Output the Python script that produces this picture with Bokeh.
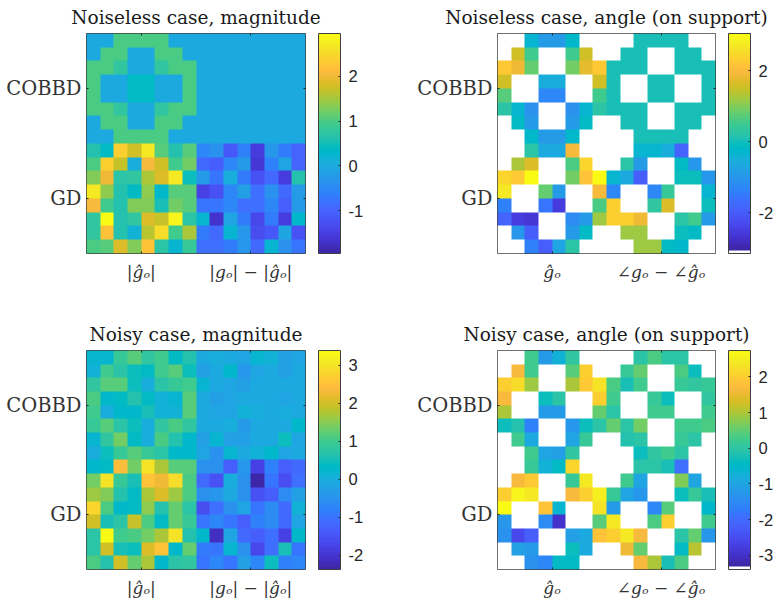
import numpy as np
from bokeh.embed import file_html
from bokeh.resources import INLINE
from bokeh.layouts import column, row
from bokeh.models import ColorBar, FixedTicker, LinearAxis, LinearColorMapper, Range1d
from bokeh.plotting import figure

N = float("nan")

TITLES = ["Noiseless case, magnitude", "Noiseless case, angle (on support)",
          "Noisy case, magnitude", "Noisy case, angle (on support)"]
Y_LABELS = {12: "COBBD", 4: "GD"}
X_LABELS_MAG = {4: "|ĝₒ|", 12: "|gₒ| − |ĝₒ|"}
X_LABELS_ANG = {4: "ĝₒ", 12: "∠gₒ − ∠ĝₒ"}

# rows listed from the top of each panel to the bottom
NOISELESS_MAG = [
    [0, 0, 1, 1, 1, 1, 0, 0, 0, 0, 0, 0, 0, 0, 0, 0],
    [0, 1, 1, 0, 0, 1, 1, 0, 0, 0, 0, 0, 0, 0, 0, 0],
    [1, 1, .8, 0, 0, .8, 1, 1, 0, 0, 0, 0, 0, 0, 0, 0],
    [1, 0, 0, .4, .4, 0, 0, 1, 0, 0, 0, 0, 0, 0, 0, 0],
    [1, 0, 0, .4, .4, 0, 0, 1, 0, 0, 0, 0, 0, 0, 0, 0],
    [1, 1, .8, 0, 0, .8, 1, 1, 0, 0, 0, 0, 0, 0, 0, 0],
    [0, 1, 1, 0, 0, 1, 1, 0, 0, 0, 0, 0, 0, 0, 0, 0],
    [0, 0, 1, 1, 1, 1, 0, 0, 0, 0, 0, 0, 0, 0, 0, 0],
    [.6, .4, 2.4, 1.75, 2.7, 1.1, .65, 1.1, -.55, -.4, -1.15, -.6, -1.5, -.3, -.7, -1.0],
    [1.0, 2.4, 1.65, .05, 2.1, 1.75, .95, 1.2, -.9, -1.1, -.5, -.2, -1.6, -.6, -.1, -1.0],
    [1.3, 2.0, .7, .75, 1.55, 1.85, 2.7, .45, -.25, -.75, .1, -.65, -1.25, -.95, -1.5, .6],
    [2.65, 1.4, .65, .4, 1.4, .3, 1.1, 1.1, -1.45, -1.2, -.55, -.15, -.85, -.4, -.9, -.2],
    [2.1, .95, .65, 1.3, 1.3, .55, 1.2, 1.1, -.8, -.8, -.55, -.85, -.85, -.55, -1.05, -.25],
    [.75, 2.95, .6, .75, 1.85, 1.7, 2.85, .7, .2, -1.7, -.05, -.7, -1.35, -.7, -1.55, .3],
    [.75, 2.25, .65, .15, 1.6, 2.5, .9, 1.5, -.7, -.9, .2, -.3, -1.3, -1.15, -.05, -1.2],
    [1.0, 1.1, 1.85, 1.3, 2.2, .7, .25, .85, -.85, -.85, -.65, -.3, -.9, .25, -.35, -.8],
]
NOISELESS_ANG = [
    [N, N, -.3, -.9, -.9, -.2, N, N, N, N, 0, 0, 0, 0, N, N],
    [N, 1.6, .5, N, N, .5, 1.6, N, N, 0, 0, N, N, 0, 0, N],
    [2.2, 1.85, .85, N, N, .9, 1.8, 2.2, 0, 0, 0, N, N, 0, 0, 0],
    [1.6, N, N, -.55, -.55, N, N, 1.6, 0, N, N, 0, 0, N, N, 0],
    [.7, N, N, -1.3, -1.3, N, N, .55, 0, N, N, 0, 0, N, N, 0],
    [.2, -.3, -1.1, N, N, -1.1, -.35, .2, 0, 0, 0, N, N, 0, 0, 0],
    [N, -.1, -.9, N, N, -.9, -.1, N, N, 0, 0, N, N, 0, 0, N],
    [N, N, -.2, -.95, -.95, -.2, N, N, N, N, 0, 0, 0, 0, N, N],
    [N, N, .2, -.65, -.65, 1.95, N, N, N, N, -.35, -.35, -.55, -1.9, N, N],
    [N, 1.3, 1.7, N, N, .6, 2.4, N, N, .25, -.9, N, N, -.1, -1.0, N],
    [2.4, 2.25, 3.0, N, N, .95, 2.1, 3.05, -.3, -.6, -2.0, N, N, -.05, -.05, -1.0],
    [2.75, N, N, .85, -.9, N, N, 2.0, -1.25, N, N, -1.25, .45, N, N, -.35],
    [-1.4, N, N, -1.55, -2.55, N, N, .6, 2.35, N, N, .35, 1.7, N, N, -.05],
    [-1.85, -2.55, -2.65, N, N, -1.2, -.9, 1.2, 2.3, 2.3, 1.85, N, N, .25, .5, -.95],
    [N, -1.0, -2.0, N, N, -.9, -.15, N, N, 1.15, 1.2, N, N, -.05, -.1, N],
    [N, N, -1.4, -1.95, -.7, .2, N, N, N, N, 1.15, 1.15, -.1, -.2, N, N],
]
NOISY_MAG = [
    [.15, .15, .95, 1.15, .85, 1.0, .4, .6, -.05, 0, -.1, -.15, .2, .1, -.25, -.2],
    [.1, 1.0, .75, .5, .35, 1.0, 1.2, .45, -.25, -.05, .25, -.4, -.15, -.1, -.25, -.1],
    [.8, 1.2, 1.2, .45, .05, .7, .95, 1.0, .15, -.1, -.2, -.3, -.1, -.05, -.1, -.05],
    [1.05, .3, .4, .6, .35, .1, .15, 1.2, -.05, -.3, -.2, -.1, -.05, -.1, -.2, -.1],
    [1.0, .05, .3, .3, .55, .1, .1, 1.2, -.05, -.2, -.15, .1, 0, -.05, 0, -.05],
    [.95, 1.15, .75, .45, .05, .8, 1.05, .8, -.1, -.1, .05, -.35, -.05, -.05, -.1, .3],
    [.2, .8, 1.4, .4, .05, 1.1, .65, .3, -.3, .2, -.3, -.3, -.05, -.1, .5, -.2],
    [0, .5, .95, 1.2, .95, .7, .3, .3, -.15, -.5, .15, -.1, .1, .25, -.15, -.1],
    [.3, .35, 2.45, 1.4, 3.0, 1.75, 1.15, 1.15, -.5, -.5, -1.3, -.45, -1.75, -.8, -1.35, -1.15],
    [1.4, 2.95, .9, .55, 2.5, 2.25, 2.85, 1.1, -1.15, -1.55, .05, -.55, -2.3, -1.0, -1.6, -1.1],
    [1.65, 1.45, .65, .35, 1.7, 2.1, 1.65, 1.1, -.55, -.45, -.1, -.5, -1.55, -1.35, -.6, -.25],
    [2.8, 1.1, .25, .4, 1.5, .6, 1.3, .75, -1.65, -1.05, -.5, -.2, -1.0, -.6, -1.2, .1],
    [2.0, .55, .7, 1.9, 1.1, .35, 1.3, .95, -.95, -.75, -.95, -1.35, -.8, -.6, -1.2, -.15],
    [.75, 3.39, 1.0, 1.1, 1.4, 1.75, 3.0, .6, .25, -2.15, -.2, -1.15, -1.35, -1.05, -1.75, .25],
    [.7, 2.0, .55, .5, 2.05, 2.5, .3, 1.25, -.85, -.95, .2, -.5, -1.7, -1.1, .55, -1.0],
    [1.1, .65, 1.95, 1.3, 1.75, .3, .7, .8, -.95, -.7, -.95, -.3, -.7, .5, -.8, -.7],
]
NOISY_ANG = [
    [N, N, .2, -1.15, -.75, .05, N, N, N, N, -.05, .35, 0, -.05, N, N],
    [N, 1.7, .25, N, N, .4, 2.0, N, N, .15, .55, N, N, .3, -.3, N],
    [2.05, 2.25, .9, N, N, 1.0, 1.95, 2.3, .3, -.25, .25, N, N, .15, .05, .1],
    [1.65, N, N, -.35, 0, N, N, 2.0, .25, N, N, .15, -.35, N, N, .05],
    [1.0, N, N, -1.2, -1.2, N, N, .55, -.05, N, N, .2, .2, N, N, .25],
    [-.35, -.1, -1.65, N, N, -1.25, -.35, -.05, .5, -.05, .6, N, N, .25, .2, .3],
    [N, .2, -.85, N, N, -.95, .1, N, N, -.15, -.05, N, N, .15, -.05, N],
    [N, N, .25, -.95, -1.05, .05, N, N, N, N, -.3, .05, .2, -.05, N, N],
    [N, N, .15, -.7, -.4, 2.1, N, N, N, N, -.05, 0, -.25, -1.95, N, N],
    [N, 1.65, 1.95, N, N, .1, 2.4, N, N, .2, -.95, N, N, .7, -.95, N],
    [2.05, 2.6, 2.4, N, N, 1.7, 2.0, 2.5, .15, -.95, -1.25, N, N, -.35, .15, -.2],
    [2.74, N, N, 1.85, -.65, N, N, 2.3, -1.15, N, N, -1.6, .4, N, N, -.5],
    [-1.25, N, N, -1.5, -3.0, N, N, .4, 2.4, N, N, .35, 2.05, N, N, .2],
    [-1.35, -2.6, -2.2, N, N, -1.1, -.9, 1.8, 2.0, 2.45, 1.7, N, N, -.05, .55, -1.25],
    [N, -1.1, -1.15, N, N, -.3, -.85, N, N, 1.55, .5, N, N, -.4, 1.1, N],
    [N, N, -1.4, -1.6, -.4, -.4, N, N, N, N, 1.7, 1.0, -.25, .35, N, N],
]

PARULA = [
    (.2422,.1504,.6603),(.2504,.1650,.7076),(.2578,.1818,.7511),(.2647,.1978,.7952),
    (.2706,.2147,.8364),(.2751,.2342,.8710),(.2783,.2559,.8991),(.2803,.2782,.9221),
    (.2813,.3006,.9414),(.2810,.3228,.9579),(.2795,.3447,.9717),(.2760,.3667,.9829),
    (.2699,.3892,.9906),(.2602,.4123,.9952),(.2440,.4358,.9988),(.2206,.4603,.9973),
    (.1963,.4847,.9892),(.1834,.5074,.9798),(.1786,.5289,.9682),(.1764,.5499,.9520),
    (.1687,.5703,.9359),(.1540,.5902,.9218),(.1460,.6091,.9079),(.1380,.6276,.8973),
    (.1248,.6459,.8883),(.1113,.6635,.8763),(.0952,.6798,.8598),(.0689,.6948,.8394),
    (.0297,.7082,.8163),(.0036,.7203,.7917),(.0067,.7312,.7660),(.0433,.7411,.7394),
    (.0964,.7500,.7120),(.1408,.7584,.6842),(.1717,.7670,.6554),(.1938,.7758,.6251),
    (.2161,.7843,.5923),(.2470,.7918,.5567),(.2906,.7973,.5188),(.3406,.8008,.4789),
    (.3909,.8029,.4354),(.4456,.8024,.3909),(.5044,.7993,.3480),(.5616,.7942,.3045),
    (.6174,.7876,.2612),(.6720,.7793,.2227),(.7242,.7698,.1910),(.7738,.7598,.1646),
    (.8203,.7498,.1535),(.8634,.7406,.1596),(.9035,.7330,.1774),(.9393,.7288,.2100),
    (.9728,.7298,.2394),(.9956,.7434,.2371),(.9970,.7659,.2199),(.9952,.7893,.2028),
    (.9892,.8136,.1885),(.9786,.8386,.1766),(.9676,.8639,.1643),(.9610,.8890,.1537),
    (.9597,.9135,.1423),(.9628,.9373,.1265),(.9691,.9606,.1064),(.9769,.9839,.0805),
]
PALETTE = ["#%02x%02x%02x" % tuple(int(round(c * 255)) for c in rgb) for rgb in PARULA]
PALETTE_NAN = ["#ffffff"] + PALETTE

SERIF = "DejaVu Serif"
SANS = "Liberation Sans"
DARK = "#262626"


def panel(title, data, xlabels, low, high, palette, cticks, width, height,
          left, right, top, bottom):
    p = figure(width=width, height=height, output_backend="svg", toolbar_location=None,
               x_range=Range1d(0, 16), y_range=Range1d(0, 16), tools="",
               min_border_left=left, min_border_right=right,
               min_border_top=top, min_border_bottom=bottom)
    mapper = LinearColorMapper(palette=palette, low=low, high=high, nan_color="#ffffff")
    img = np.flipud(np.array(data, dtype=float))
    p.image(image=[img], x=0, y=0, dw=16, dh=16, color_mapper=mapper)
    p.grid.visible = False
    p.background_fill_color = "#ffffff"
    p.outline_line_color = "#404040"
    p.outline_line_width = 1
    p.title.text = title
    p.title.align = "center"
    p.title.vertical_align = "top"
    p.title.text_font = SERIF
    p.title.text_font_style = "normal"
    p.title.text_font_size = "18.5px"
    p.title.text_color = "#1a1a1a"
    p.title.standoff = 8

    ax = p.xaxis[0]
    ay = p.yaxis[0]
    for a, labels in ((ax, xlabels), (ay, Y_LABELS)):
        a.ticker = FixedTicker(ticks=[4, 12])
        a.major_label_overrides = labels
        a.major_tick_in = 2
        a.major_tick_out = 0
        a.minor_tick_line_color = None
        a.axis_line_color = None
        a.major_tick_line_color = DARK
        a.major_label_text_font = SERIF
        a.major_label_text_color = "#333333"
    ax.major_label_text_font_size = "17px"
    ax.major_label_text_font_style = "italic"
    ax.major_label_standoff = 8
    ay.major_label_text_font_size = "19.5px"
    ay.major_label_standoff = 5

    for side in ("above", "right"):
        extra = LinearAxis(ticker=FixedTicker(ticks=[4, 12]), major_tick_in=2, major_tick_out=0,
                           minor_tick_line_color=None, axis_line_color=None,
                           major_tick_line_color=DARK, major_label_text_color=None,
                           major_label_text_font_size="0px", major_label_standoff=0)
        p.add_layout(extra, side)

    bar = ColorBar(color_mapper=mapper, ticker=FixedTicker(ticks=cticks),
                   major_label_overrides={t: str(t) for t in cticks},
                   width=22, height=height - top - bottom, padding=0,
                   location=(13, 0), border_line_color=None,
                   bar_line_color="#404040", bar_line_width=1,
                   major_tick_line_color=DARK, major_tick_in=2, major_tick_out=0,
                   minor_tick_line_color=None, label_standoff=8,
                   major_label_text_font=SANS, major_label_text_font_size="16.5px",
                   major_label_text_color=DARK)
    p.add_layout(bar, "right")
    return p


p1 = panel(TITLES[0], NOISELESS_MAG, X_LABELS_MAG, -1.95, 2.95, PALETTE, [-1, 0, 1, 2],
           405, 301, 86, 100, 33, 48)
p2 = panel(TITLES[1], NOISELESS_ANG, X_LABELS_ANG, -3.15, 3.05, PALETTE_NAN, [-2, 0, 2],
           371, 301, 92, 59, 33, 48)
p3 = panel(TITLES[2], NOISY_MAG, X_LABELS_MAG, -2.38, 3.39, PALETTE, [-2, -1, 0, 1, 2, 3],
           405, 301, 86, 100, 49, 33)
p4 = panel(TITLES[3], NOISY_ANG, X_LABELS_ANG, -3.4, 2.74, PALETTE_NAN, [-3, -2, -1, 0, 1, 2],
           371, 301, 92, 59, 49, 33)

layout = column(row(p1, p2, spacing=0), row(p3, p4, spacing=0), spacing=0)
open("out.html", "w").write(file_html(layout, INLINE))
